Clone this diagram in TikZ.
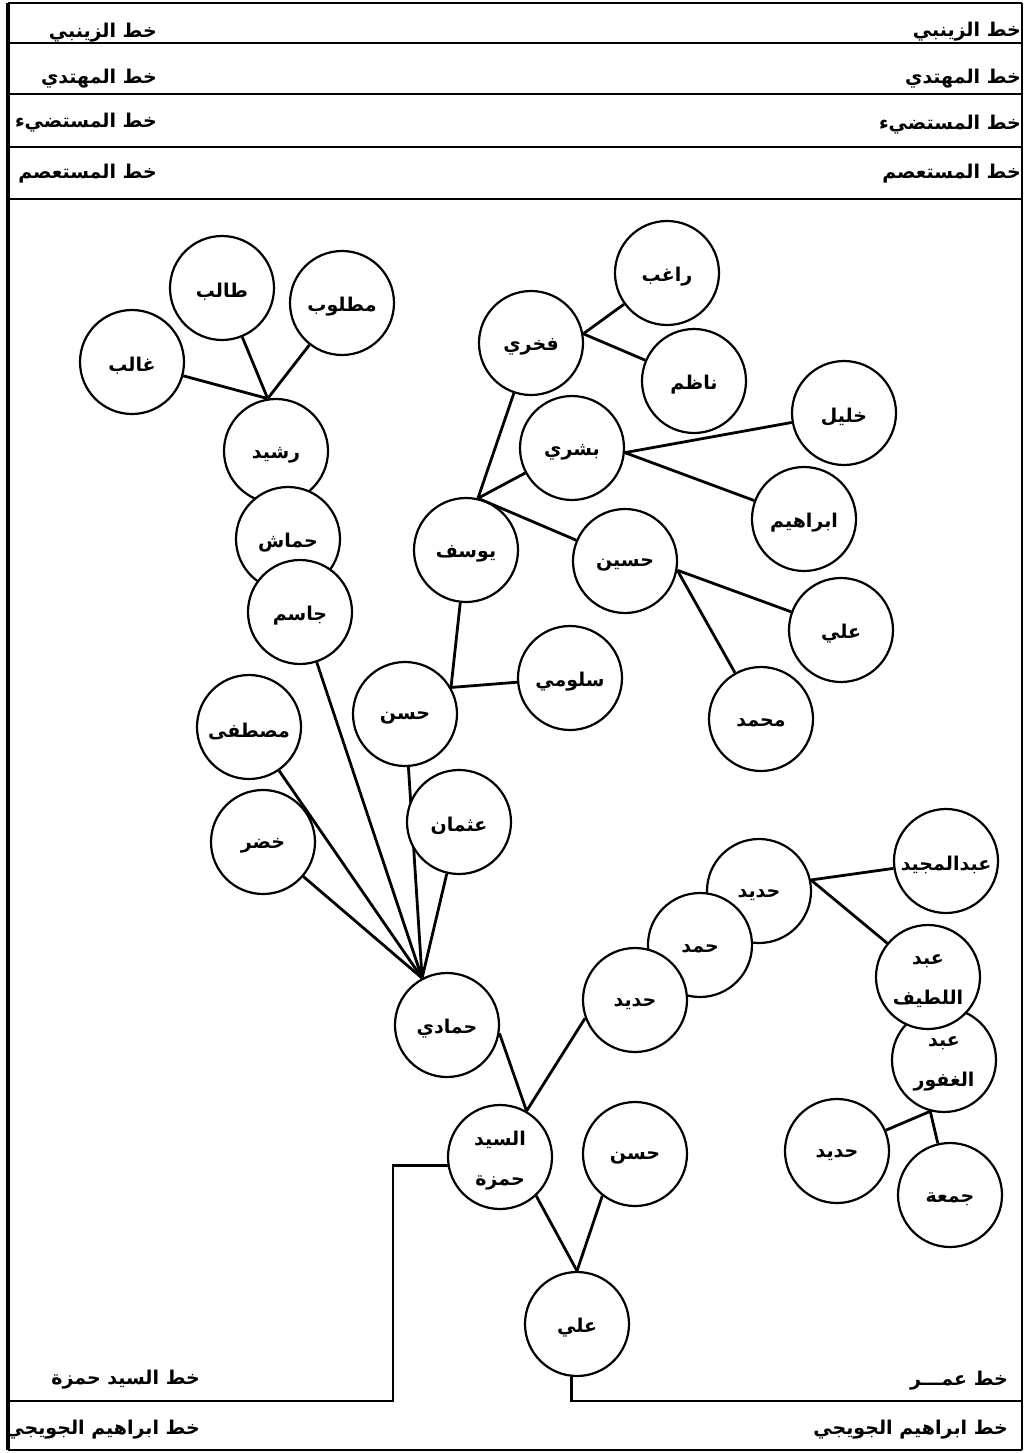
\documentclass[tikz,border=0pt]{standalone}
\usepackage{fontspec}
\TeXXeTstate=1
\newfontfamily\arabicfont[Script=Arabic]{DejaVu Sans}
\usetikzlibrary{backgrounds}
\newcommand\ar[1]{\raisebox{-4pt}[\height][\depth]{\beginR #1\endR}}
\begin{document}
\begin{tikzpicture}[x=1pt,y=-1pt,
  person/.style={circle,draw,fill=white,line width=2.2pt,minimum size=104pt,inner sep=0pt,align=center,
    font=\arabicfont\bfseries\fontsize{19}{40}\selectfont},
  link/.style={line width=2.8pt},
  framel/.style={line width=2.8pt},
  lbl/.style={font=\arabicfont\bfseries\fontsize{19}{22}\selectfont,inner sep=0pt}]
\useasboundingbox (0,0) rectangle (1028,1453);

% frame and rows
\draw[framel] (8,3) -- (1022,3);
\draw[line width=3.6pt] (8,3) -- (8,1450);
\draw[framel] (1022,3) -- (1022,1450);
\draw[framel] (8,1450) -- (1022,1450);
\draw[framel] (8,43) -- (1022,43);
\draw[framel] (8,94) -- (1022,94);
\draw[framel] (8,147) -- (1022,147);
\draw[framel] (8,199) -- (1022,199);

% row labels
\node[lbl,anchor=east] (l1) at (157,29) {\ar{خط الزينبي}};
\node[lbl,anchor=east] (l2) at (157,75) {\ar{خط المهتدي}};
\node[lbl,anchor=east] (l3) at (157,119) {\ar{خط المستضيء}};
\node[lbl,anchor=east] (l4) at (157,170) {\ar{خط المستعصم}};
\node[lbl,anchor=east] (r1) at (1021,28) {\ar{خط الزينبي}};
\node[lbl,anchor=east] (r2) at (1021,75) {\ar{خط المهتدي}};
\node[lbl,anchor=east] (r3) at (1021,121) {\ar{خط المستضيء}};
\node[lbl,anchor=east] (r4) at (1021,170) {\ar{خط المستعصم}};
\node[lbl,anchor=east] (b1) at (200,1376) {\ar{خط السيد حمزة}};
\node[lbl,anchor=east] (b2) at (200,1426) {\ar{خط ابراهيم الجويجي}};
\node[lbl,anchor=east] (b3) at (1008,1377) {\ar{خط عمـــر}};
\node[lbl,anchor=east] (b4) at (1008,1426) {\ar{خط ابراهيم الجويجي}};

% persons
\node[person] (talib) at (222,288) {\ar{طالب}};
\node[person] (matlub) at (342,303) {\ar{مطلوب}};
\node[person] (ghalib) at (132,362) {\ar{غالب}};
\node[person] (rashid) at (276,451) {\ar{رشيد}};
\node[person] (hammash) at (288,539) {\ar{حماش}};
\node[person] (jasim) at (300,612) {\ar{جاسم}};
\node[person] (mustafa) at (249,727) {\ar{مصطفى}};
\node[person] (khidr) at (263,842) {\ar{خضر}};
\node[person] (uthman) at (459,822) {\ar{عثمان}};
\node[person] (hasanA) at (405,714) {\ar{حسن}};
\node[person] (yusuf) at (466,550) {\ar{يوسف}};
\node[person] (fakhri) at (531,343) {\ar{فخري}};
\node[person] (raghib) at (667,273) {\ar{راغب}};
\node[person] (nazim) at (694,381) {\ar{ناظم}};
\node[person] (bushra) at (572,448) {\ar{بشري}};
\node[person] (khalil) at (844,413) {\ar{خليل}};
\node[person] (ibrahim) at (804,519) {\ar{ابراهيم}};
\node[person] (husayn) at (625,561) {\ar{حسين}};
\node[person] (aliA) at (841,630) {\ar{علي}};
\node[person] (muhammad) at (761,719) {\ar{محمد}};
\node[person] (salumi) at (570,678) {\ar{سلومي}};
\node[person] (hamadi) at (447,1025) {\ar{حمادي}};
\node[person] (sayyid) at (500,1157) {\ar{السيد}\\\ar{حمزة}};
\node[person] (hasanB) at (635,1154) {\ar{حسن}};
\node[person] (aliB) at (577,1324) {\ar{علي}};
\node[person] (hadidB) at (759,891) {\ar{حديد}};
\node[person] (hamad) at (700,945) {\ar{حمد}};
\node[person] (hadidA) at (635,1000) {\ar{حديد}};
\node[person] (majid) at (946,861) {\ar{عبدالمجيد}};
\node[person] (ghafur) at (944,1060) {\ar{عبد}\\\ar{الغفور}};
\node[person] (latif) at (928,977) {\ar{عبد}\\\ar{اللطيف}};
\node[person] (hadidC) at (837,1151) {\ar{حديد}};
\node[person] (juma) at (950,1195) {\ar{جمعة}};

\coordinate (hzA) at (393,1401);
\coordinate (hzL) at (8,1401);
\coordinate (omR) at (1022,1401);

\begin{scope}[on background layer]
\fill[white] (0,0) rectangle (1028,1453);
\draw[link] (ghalib) -- (rashid.99);
\draw[link] (talib) -- (rashid.99);
\draw[link] (matlub) -- (rashid.99);
\draw[link] (raghib) -- (fakhri.10);
\draw[link] (nazim) -- (fakhri.10);
\draw[link] (fakhri) -- (yusuf.77);
\draw[link] (bushra) -- (yusuf.77);
\draw[link] (husayn) -- (yusuf.77);
\draw[link] (khalil) -- (bushra.-5);
\draw[link] (ibrahim) -- (bushra.-5);
\draw[link] (aliA) -- (husayn.-10);
\draw[link] (muhammad) -- (husayn.-10);
\draw[link] (yusuf) -- (hasanA.30);
\draw[link] (salumi) -- (hasanA.30);
\draw[link] (jasim) -- (hamadi.118);
\draw[link] (mustafa) -- (hamadi.118);
\draw[link] (hasanA) -- (hamadi.118);
\draw[link] (khidr) -- (hamadi.118);
\draw[link] (uthman) -- (hamadi.118);
\draw[link] (hamadi.-9) -- (sayyid.60);
\draw[link] (hadidA.200) -- (sayyid.60);
\draw[link] (sayyid.-47) -- (aliB.north);
\draw[link] (hasanB.-128) -- (aliB.north);
\draw[link] (majid) -- (hadidB.12);
\draw[link] (latif) -- (hadidB.12);
\draw[link] (hadidC) -- (ghafur.-105);
\draw[link] (juma) -- (ghafur.-105);
\draw[link] (sayyid.189) -| (hzA) -- (hzL);
\draw[link] (aliB.-96) |- (omR);
\end{scope}
\end{tikzpicture}
\end{document}
